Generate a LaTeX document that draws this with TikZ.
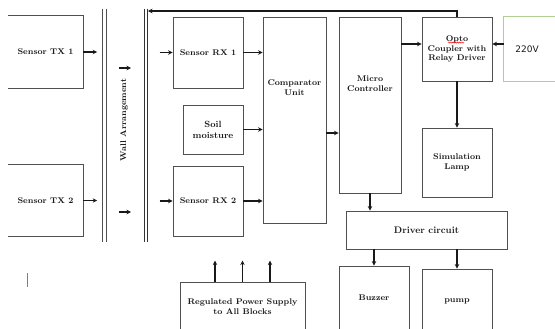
\documentclass[tikz,border=0pt]{standalone}
\usepackage{fontspec}
\usepackage{tikz}
\usepackage{xcolor}
\usetikzlibrary{arrows.meta, positioning, calc, decorations.pathmorphing}
\newfontfamily\voltfont{DejaVu Sans}
\definecolor{cLine}{RGB}{80,80,80}
\definecolor{cText}{RGB}{25,25,25}
\definecolor{cMains}{RGB}{175,208,145}
\tikzset{
	blk/.style     ={rectangle, draw=cLine, line width=0.9pt, align=center, text=cText, inner sep=1pt},
	blktxt/.style  ={align=center, text=cText, inner sep=1pt},
	openblk/.style ={rectangle, draw=none, align=center, text=cText, inner sep=1pt},
	sig/.style     ={-{Stealth[length=4.5pt, width=4.5pt]}, line width=1.4pt, draw=black!90},
	% wall between transmitter and receiver side
	wall/.style    ={line width=0.8pt, draw=cLine},
	thickwall/.style={line width=1.4pt, draw=black!80},
}

\begin{document}
\begin{tikzpicture}[x=1pt, y=-1pt, font=\bfseries\fontsize{8.3}{9.8}\selectfont]
	\useasboundingbox (0,0) rectangle (555,329);
	\clip (0,0) rectangle (555,329);
	% transmitter side
	\node[openblk, minimum width=75, minimum height=72] (tx1) at (45.5,52) {Sensor TX 1};
	\node[openblk, minimum width=75, minimum height=71] (tx2) at (45.5,200.5) {Sensor TX 2};
	\draw[cLine, line width=0.9pt] (tx1.north west) -- (tx1.north east) -- (tx1.south east) -- (tx1.south west);
	\draw[cLine, line width=0.9pt] (tx2.north west) -- (tx2.north east) -- (tx2.south east) -- (tx2.south west);
	\draw[sig] (tx1.east) -- ++(14,0); \draw[sig] (tx2.east) -- ++(14,0);
	% wall
	\draw[wall] (102,9) -- (102,242); \draw[wall] (106,9) -- (106,242);
	\draw[thickwall] (144.5,9) -- (144.5,242); \draw[thickwall] (147.5,9) -- (147.5,242);
	\node[rotate=90, blktxt] (walltxt) at (124,120) {Wall Arrangement};
	\coordinate (wa1) at (119,68); \coordinate (wa2) at (119,212);
	\draw[sig] (wa1) -- ++(12,0); \draw[sig] (wa2) -- ++(12,0);
	\coordinate (wallR) at (148,11);
	% receiver side
	\node[blk, minimum width=70, minimum height=71] (rx1) at (208,52.5) {Sensor RX 1};
	\node[blk, minimum width=60, minimum height=49, font=\bfseries\fontsize{9}{11}\selectfont] (soil) at (213,129.5) {Soil\\moisture};
	\node[blk, minimum width=70, minimum height=70] (rx2) at (208,201) {Sensor RX 2};
	\node[blk, minimum width=63, minimum height=206] (comp) at (294.5,120) {};
	\node[blktxt] (comptxt) at (294.5,88) {Comparator\\Unit};
	\node[blk, minimum width=62, minimum height=176] (mc) at (370,105) {};
	\node[blktxt] (mctxt) at (370,84) {Micro\\Controller};
	\node[blk, minimum width=70, minimum height=64] (opto) at (457,49) {Opto\\Coupler with\\Relay Driver};
	\node[openblk, minimum width=46, minimum height=64, font=\voltfont\fontsize{9}{11}\selectfont] (v220) at (527,49) {220V};
	\draw[cMains, line width=0.9pt] ([xshift=12pt]v220.north east) -- (v220.north west) -- (v220.south west) -- ([xshift=12pt]v220.south east);
	\node[blk, minimum width=70, minimum height=69] (lamp) at (457,162.5) {Simulation\\Lamp};
	\node[blk, minimum width=161, minimum height=38, font=\bfseries\fontsize{9.5}{11}\selectfont] (drv) at (426.5,230) {Driver circuit};
	\node[blk, minimum width=70, minimum height=64] (buzz) at (374,298) {Buzzer};
	\node[blk, minimum width=70, minimum height=64] (pump) at (457,301) {pump};
	\node[blk, minimum width=125, minimum height=50] (psu) at (242.5,307) {Regulated Power Supply\\to All Blocks};
	\draw[red, line width=0.5pt, decorate, decoration={snake, amplitude=0.6pt, segment length=2.2pt}] ([xshift=-9pt, yshift=-26pt]opto.north) -- ++(16,0);
	% signal flow
	\draw[sig] ([xshift=-13pt]rx1.west) -- (rx1.west);
	\draw[sig] ([xshift=-13pt]rx2.west) -- (rx2.west);
	\draw[sig] (rx1.east) -- (rx1.east -| comp.west);
	\draw[sig] (soil.east) -- (soil.east -| comp.west);
	\draw[sig] (rx2.east) -- (rx2.east -| comp.west);
	\draw[sig] ([yshift=-13pt]comp.east) -- ([yshift=-13pt]comp.east -| mc.west);
	\draw[sig] ([yshift=5pt]opto.west -| mc.east) -- ([yshift=5pt]opto.west);
	\draw[sig] ([yshift=5pt]v220.west) -- ([yshift=5pt]opto.east);
	\draw[sig] (opto.south) -- (lamp.north);
	\draw[sig] (mc.south) -- (mc.south |- drv.north);
	\draw[sig] (buzz.north |- drv.south) -- (buzz.north);
	\draw[sig] (pump.north |- drv.south) -- (pump.north);
	\draw[sig, line width=1.8pt] (opto.north) |- (wallR);
	\foreach \dx in {-27.5,0,27.5}
		\draw[sig] ([xshift=\dx pt]psu.north) -- ++(0,-21);
	\draw[gray, line width=1pt] (27,273) -- (27,287);
\end{tikzpicture}
\end{document}
